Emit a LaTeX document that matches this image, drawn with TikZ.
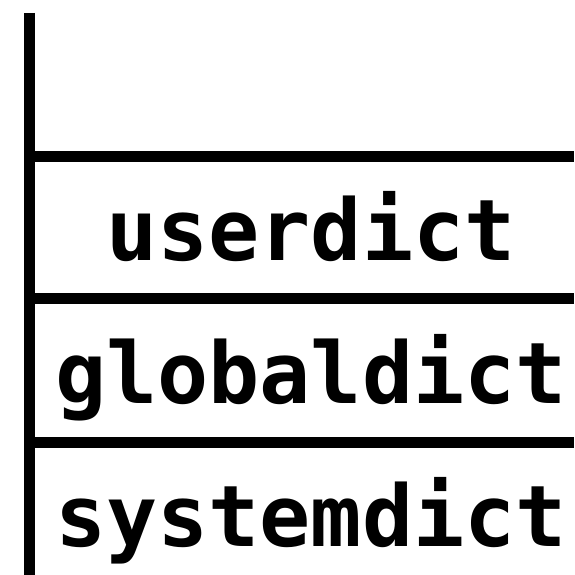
\documentclass[tikz,border=0pt]{standalone}
\usepackage{fontspec}
\newfontfamily\dictmono{DejaVu Sans Mono}
\begin{document}
\begin{tikzpicture}[x=1pt,y=-1pt,
  rule/.style={line width=11pt,draw=black,line cap=butt},
  dictlabel/.style={anchor=base,inner sep=0pt,font=\dictmono\bfseries\fontsize{85}{90}\selectfont}]
\useasboundingbox (0,0) rectangle (574,575);
\coordinate (vtop) at (29.5,13);
\coordinate (vbot) at (29.5,575);
\draw[rule] (vtop) -- (vbot);
\coordinate (h1a) at (24,156); \coordinate (h1b) at (574,156);
\coordinate (h2a) at (24,298.5); \coordinate (h2b) at (574,298.5);
\coordinate (h3a) at (24,442); \coordinate (h3b) at (574,442);
\draw[rule] (h1a) -- (h1b);
\draw[rule] (h2a) -- (h2b);
\draw[rule] (h3a) -- (h3b);
\node[dictlabel] (user) at (311,260) {userdict};
\node[dictlabel] (global) at (311,403) {globaldict};
\node[dictlabel] (system) at (311,546) {systemdict};
\end{tikzpicture}
\end{document}
